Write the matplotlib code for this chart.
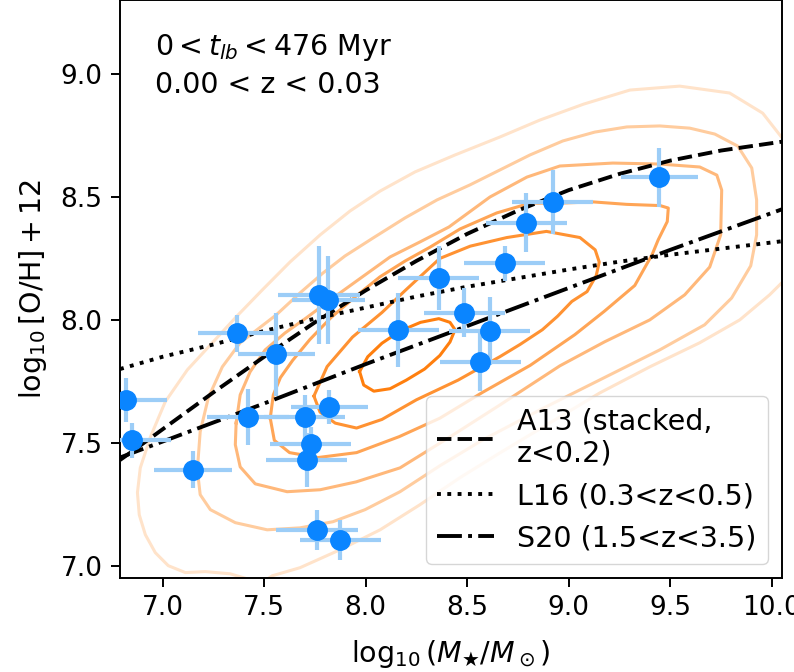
import numpy as np
import matplotlib
matplotlib.use("Agg")
import matplotlib.pyplot as plt

# galaxies in this lookback-time bin
mass = [6.82, 6.85, 7.15, 7.365, 7.56, 7.42, 7.70, 7.82, 7.73, 7.71, 7.76, 7.875,
        7.77, 7.815, 8.16, 8.36, 8.485, 8.61, 8.565, 8.685, 8.79, 8.92, 9.445]
metal = [7.675, 7.51, 7.39, 7.945, 7.86, 7.605, 7.605, 7.645, 7.495, 7.43, 7.145, 7.105,
         8.10, 8.08, 7.96, 8.17, 8.03, 7.955, 7.83, 8.23, 8.395, 8.48, 8.58]
mass_err = [0.2, 0.19, 0.19, 0.19, 0.19, 0.2, 0.2, 0.19, 0.2, 0.2, 0.2, 0.2,
            0.2, 0.18, 0.2, 0.2, 0.2, 0.2, 0.2, 0.2, 0.2, 0.2, 0.19]
metal_err = [0.09, 0.07, 0.075, 0.075, 0.17, 0.115, 0.09, 0.07, 0.07, 0.11, 0.08, 0.08,
             0.20, 0.18, 0.15, 0.13, 0.10, 0.14, 0.12, 0.07, 0.12, 0.13, 0.12]

# literature relations
a13_x = [6.79, 6.85, 7.0, 7.25, 7.5, 7.75, 8.0, 8.25, 8.5, 8.75, 9.0, 9.25, 9.5, 9.75, 10.05]
a13_y = [7.43, 7.465, 7.555, 7.705, 7.85, 7.99, 8.12, 8.24, 8.35, 8.445, 8.528, 8.594, 8.648, 8.689, 8.725]
l16_x = [6.79, 7.0, 7.25, 7.5, 7.75, 8.0, 8.25, 8.5, 8.75, 9.0, 9.25, 9.5, 9.75, 10.05]
l16_y = [7.80, 7.85, 7.90, 7.955, 8.005, 8.05, 8.095, 8.135, 8.17, 8.205, 8.237, 8.265, 8.29, 8.32]
s20_x = [6.79, 7.5, 8.0, 8.5, 9.0, 9.5, 10.05]
s20_y = [7.44, 7.66, 7.82, 7.975, 8.13, 8.285, 8.45]

# density contours of the simulated population, innermost first
lev1_x = [7.97, 7.99, 8.04, 8.12, 8.20, 8.29, 8.365, 8.415, 8.44, 8.415, 8.36, 8.27, 8.17, 8.08, 8.01, 7.97]
lev1_y = [7.79, 7.735, 7.71, 7.72, 7.755, 7.80, 7.855, 7.91, 7.96, 7.99, 8.005, 7.99, 7.955, 7.905, 7.85, 7.79]

lev2_x = [7.745, 7.81, 7.935, 8.08, 8.195, 8.365, 8.515, 8.695, 8.89, 9.055, 9.13, 9.15, 9.135,
          9.09, 9.015, 8.945, 8.87, 8.76, 8.66, 8.455, 8.25, 8.08, 7.955, 7.85, 7.775, 7.745]
lev2_y = [7.69, 7.81, 7.93, 8.03, 8.12, 8.25, 8.30, 8.335, 8.36, 8.335, 8.285, 8.235, 8.18,
          8.115, 8.075, 8.015, 7.96, 7.90, 7.85, 7.755, 7.675, 7.595, 7.56, 7.58, 7.625, 7.69]

lev3_x = [7.53, 7.545, 7.58, 7.64, 7.725, 7.83, 7.95, 8.07, 8.195, 8.315, 8.465, 8.645, 8.81, 8.955,
          9.12, 9.285, 9.45, 9.49, 9.485, 9.44, 9.41, 9.325, 9.175, 9.03, 8.81, 8.575, 8.365,
          8.165, 7.955, 7.765, 7.625, 7.55, 7.53]
lev3_y = [7.60, 7.695, 7.765, 7.835, 7.92, 8.01, 8.095, 8.175, 8.24, 8.295, 8.37, 8.435, 8.475, 8.475,
          8.48, 8.47, 8.465, 8.455, 8.40, 8.325, 8.265, 8.14, 8.035, 7.94, 7.815, 7.705, 7.60,
          7.525, 7.46, 7.44, 7.46, 7.51, 7.60]

lev4_x = [7.362, 7.382, 7.431, 7.505, 7.603, 7.707, 7.874, 7.997, 8.12, 8.267, 8.41, 8.612, 8.794,
          8.956, 9.217, 9.448, 9.645, 9.729, 9.753, 9.748, 9.694, 9.571, 9.399, 9.177, 8.956,
          8.661, 8.415, 8.169, 7.953, 7.776, 7.613, 7.456, 7.382, 7.358, 7.362]
lev4_y = [7.581, 7.695, 7.789, 7.878, 7.947, 8.008, 8.11, 8.183, 8.256, 8.317, 8.378, 8.50, 8.581,
          8.626, 8.638, 8.634, 8.622, 8.589, 8.528, 8.346, 8.215, 8.102, 8.0, 7.911, 7.813,
          7.654, 7.524, 7.398, 7.341, 7.309, 7.301, 7.333, 7.402, 7.492, 7.581]

lev5_x = [7.171, 7.185, 7.225, 7.294, 7.382, 7.559, 7.677, 7.79, 7.898, 8.036, 8.194, 8.351, 8.513,
          8.661, 8.809, 8.971, 9.128, 9.286, 9.448, 9.596, 9.719, 9.832, 9.901, 9.925, 9.925,
          9.896, 9.802, 9.669, 9.448, 9.153, 8.858, 8.577, 8.366, 8.169, 7.997, 7.839, 7.677,
          7.515, 7.358, 7.235, 7.185, 7.171]
lev5_y = [7.39, 7.545, 7.683, 7.809, 7.907, 8.02, 8.11, 8.191, 8.26, 8.333, 8.415, 8.488, 8.549,
          8.61, 8.671, 8.728, 8.764, 8.785, 8.789, 8.78, 8.756, 8.707, 8.618, 8.488, 8.346,
          8.22, 8.089, 7.98, 7.878, 7.756, 7.634, 7.512, 7.407, 7.301, 7.228, 7.179, 7.154,
          7.146, 7.175, 7.228, 7.289, 7.39]

lev6_x = [10.097, 9.955, 9.792, 9.546, 9.301, 9.074, 8.858, 8.661, 8.44, 8.243, 8.071, 7.923, 7.776,
          7.628, 7.491, 7.362, 7.245, 7.122, 7.013, 6.94, 6.89, 6.876, 6.885, 6.915, 6.964, 7.028,
          7.112, 7.21, 7.333, 7.431, 7.481, 7.54, 7.677, 7.874, 8.071, 8.267, 8.464, 8.661, 8.907,
          9.153, 9.399, 9.645, 9.842, 9.989, 10.088]
lev6_y = [8.691, 8.841, 8.923, 8.951, 8.935, 8.878, 8.813, 8.744, 8.671, 8.602, 8.524, 8.443, 8.346,
          8.236, 8.122, 8.012, 7.907, 7.797, 7.667, 7.524, 7.398, 7.297, 7.207, 7.126, 7.053, 7.0,
          6.972, 6.976, 6.967, 6.943, 6.927, 6.959, 6.992, 7.065, 7.146, 7.248, 7.358, 7.459, 7.581,
          7.703, 7.809, 7.907, 8.0, 8.102, 8.183]

levels = [(lev1_x, lev1_y), (lev2_x, lev2_y), (lev3_x, lev3_y),
          (lev4_x, lev4_y), (lev5_x, lev5_y), (lev6_x, lev6_y)]
level_colors = ['#ff7f0e', '#ff9232', '#ffa556', '#ffb87a', '#ffcc9e', '#ffe3ca']

xticks = [7.0, 7.5, 8.0, 8.5, 9.0, 9.5, 10.0]
yticks = [7.0, 7.5, 8.0, 8.5, 9.0]

plt.rcParams['font.size'] = 20.5
plt.rcParams['mathtext.fontset'] = 'dejavusans'

fig = plt.figure(figsize=(7.94, 6.72), dpi=100)
ax = fig.add_axes([0.1511, 0.1399, 0.8338, 0.8596])

for (cx, cy), c in zip(levels, level_colors):
    ax.plot(cx, cy, color=c, lw=2.2, zorder=1)

ax.plot(a13_x, a13_y, ls='--', color='k', lw=2.8, zorder=2, label='A13 (stacked,\nz<0.2)')
ax.plot(l16_x, l16_y, ls=':', color='k', lw=2.8, zorder=2, label='L16 (0.3<z<0.5)')
ax.plot(s20_x, s20_y, ls='-.', color='k', lw=2.8, zorder=2, label='S20 (1.5<z<3.5)')

ax.errorbar(mass, metal, xerr=mass_err, yerr=metal_err, fmt='o', color='#0a85ff',
            ecolor='#9ccdf7', elinewidth=3, markersize=14, capsize=0, zorder=3)

ax.text(0.053, 0.945, '$0 < t_{lb} < 476$ Myr\n0.00 < z < 0.03',
        transform=ax.transAxes, ha='left', va='top', linespacing=1.35)

ax.set_xlim(6.79, 10.05)
ax.set_ylim(6.95, 9.30)
ax.set_xticks(xticks)
ax.set_yticks(yticks)
ax.tick_params(labelsize=19, length=6.3, width=1.4, pad=6.3)
for s in ax.spines.values():
    s.set_linewidth(1.4)

ax.set_xlabel(r'$\log_{10}(M_\bigstar/M_\odot)$', labelpad=12)
ax.set_ylabel(r'$\log_{10}[{\rm O/H}] + 12$', labelpad=8)

leg = ax.legend(loc='lower right', handlelength=2.0)
leg.set_zorder(5)

fig.savefig('out.png', dpi=100)
